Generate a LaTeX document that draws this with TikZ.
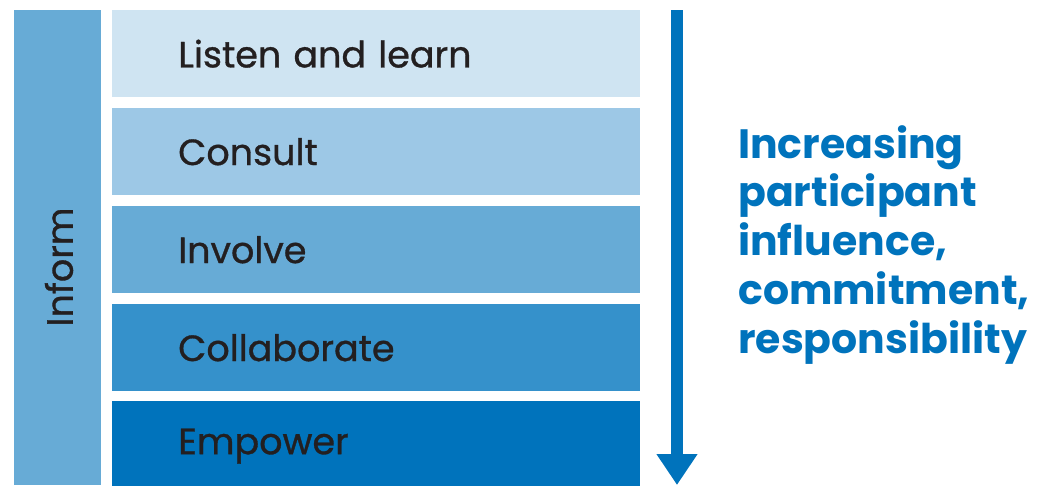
\documentclass[tikz,border=0pt]{standalone}
\usepackage{fontspec}
\setmainfont{Poppins}
\newfontfamily\levelfont{Poppins}[FakeBold=0.9]
\usetikzlibrary{arrows.meta}
\definecolor{inkdark}{HTML}{231F20}
\definecolor{blueA}{HTML}{CFE4F2}
\definecolor{blueB}{HTML}{9DC8E6}
\definecolor{blueC}{HTML}{67ABD6}
\definecolor{blueD}{HTML}{3591CB}
\definecolor{blueE}{HTML}{0073BC}
\tikzset{
  levelbox/.style={rectangle, anchor=north west, inner xsep=66pt, inner ysep=0pt,
    text width=396pt, minimum height=87pt, align=left, text=inkdark,
    font=\levelfont\fontsize{36.5}{36.5}\selectfont},
}
\begin{document}
\begin{tikzpicture}[x=1pt,y=-1pt]
\useasboundingbox (0,0) rectangle (1040,485);
% side bar
\fill[blueC] (14,10) rectangle (101,485);
\node[rotate=90, text=inkdark, font=\levelfont\fontsize{36.5}{36.5}\selectfont] (inform) at (59,267) {Inform};
% the five levels
\node[levelbox, fill=blueA] (listen) at (112,10) {Listen and learn};
\node[levelbox, fill=blueB] (consult) at (112,108) {Consult};
\node[levelbox, fill=blueC] (involve) at (112,206) {Involve};
\node[levelbox, fill=blueD] (collab) at (112,304) {Collaborate};
\node[levelbox, fill=blueE, minimum height=90pt] (empower) at (112,401) {Empower};
% arrow
\coordinate (top) at (677,10);
\coordinate (tip) at (677,485);
\draw[blueE, line width=12pt, -{Triangle[width=39pt,length=31pt]}] (top) -- (tip);
\node[anchor=base west, align=left, text=blueE, font=\fontsize{41}{48.75}\selectfont\bfseries, inner sep=0pt] (more) at (738,353)
  {Increasing\\participant\\influence,\\commitment,\\responsibility};
\end{tikzpicture}
\end{document}
